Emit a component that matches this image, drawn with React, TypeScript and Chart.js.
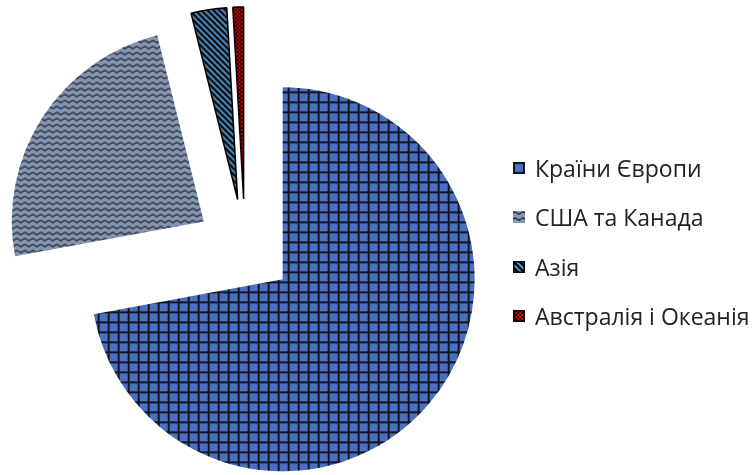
import React, { useEffect, useRef } from "react";
import { Chart, registerables, ArcElement } from "chart.js";

Chart.register(...registerables);

const categories: string[] = ["Країни Європи", "США та Канада", "Азія", "Австралія і Океанія"];
const values: number[] = [72.1, 24.0, 3.0, 0.9];
const explode: number[] = [49, 49, 49, 49];
const borderWidths: number[] = [0, 0, 1.5, 1.5];

// Explode slices by a true pixel distance (Chart.js scales `offset` and grows the radius).
const proto: any = ArcElement.prototype as any;
if (!proto.__explodedPatched) {
  const origDraw = proto.draw;
  proto.draw = function (ctx: CanvasRenderingContext2D) {
    const idx = this.$context && typeof this.$context.dataIndex === "number" ? this.$context.dataIndex : 0;
    const off = explode[idx] ?? 0;
    const half = (this.startAngle + this.endAngle) / 2;
    ctx.save();
    ctx.translate(Math.cos(half) * off, Math.sin(half) * off);
    origDraw.call(this, ctx);
    ctx.restore();
  };
  proto.__explodedPatched = true;
}

function makePattern(idx: number): CanvasPattern | string {
  const c = document.createElement("canvas");
  const g = c.getContext("2d");
  if (!g) return "#4472C4";
  if (idx === 0) {
    c.width = 10; c.height = 10;
    g.fillStyle = "#4A6EC0"; g.fillRect(0, 0, 10, 10);
    g.fillStyle = "#121621";
    g.fillRect(0, 0, 10, 2); g.fillRect(0, 0, 2, 10);
  } else if (idx === 1) {
    c.width = 8; c.height = 6;
    g.fillStyle = "#8596B2"; g.fillRect(0, 0, 8, 6);
    g.strokeStyle = "#1e222c"; g.lineWidth = 1.3;
    g.beginPath();
    g.moveTo(0, 2); g.lineTo(2, 1); g.lineTo(4, 2); g.lineTo(6, 3.2); g.lineTo(8, 2);
    g.stroke();
  } else if (idx === 2) {
    c.width = 6; c.height = 6;
    g.fillStyle = "#5B9BD5"; g.fillRect(0, 0, 6, 6);
    g.strokeStyle = "#050505"; g.lineWidth = 2.3;
    g.beginPath();
    for (const k of [-6, 0, 6]) { g.moveTo(k - 1, -1); g.lineTo(k + 7, 7); }
    g.stroke();
  } else {
    c.width = 4; c.height = 4;
    g.fillStyle = "#000000"; g.fillRect(0, 0, 4, 4);
    g.fillStyle = "#E00000";
    g.fillRect(0, 0, 2, 2); g.fillRect(2, 2, 2, 2);
  }
  const p = g.createPattern(c, "repeat");
  return p || "#4472C4";
}

const SW = 12;

function Swatch({ idx }: { idx: number }) {
  const ref = useRef<HTMLCanvasElement | null>(null);
  useEffect(() => {
    const cv = ref.current;
    if (!cv) return;
    const g = cv.getContext("2d");
    if (!g) return;
    g.clearRect(0, 0, SW, SW);
    g.fillStyle = makePattern(idx) as any;
    g.fillRect(0, 0, SW, SW);
    if (idx >= 2) {
      g.strokeStyle = "#000";
      g.lineWidth = 1.5;
      g.strokeRect(0.75, 0.75, SW - 1.5, SW - 1.5);
    }
  }, [idx]);
  return <canvas ref={ref} width={SW} height={SW} style={{ display: "block", width: SW, height: SW }} />;
}

export default function App() {
  const canvasRef = useRef<HTMLCanvasElement | null>(null);

  useEffect(() => {
    const cv = canvasRef.current;
    if (!cv) return;
    const chart = new Chart(cv, {
      type: "pie",
      data: {
        labels: categories,
        datasets: [
          {
            data: values,
            backgroundColor: categories.map((_, i) => makePattern(i)) as any,
            borderColor: "#000000",
            borderWidth: borderWidths,
            offset: 0,
            hoverOffset: 0,
            clip: false as any,
          } as any,
        ],
      },
      options: {
        responsive: false,
        animation: false,
        radius: 192,
        layout: { padding: { left: 0, right: 264, top: 21, bottom: 0 } },
        plugins: {
          legend: { display: false },
          tooltip: { enabled: false },
        },
      } as any,
    });
    return () => chart.destroy();
  }, []);

  const legendTops = [168, 217, 267, 316];

  return (
    <div style={{ position: "absolute", left: 0, top: 0, width: 754, height: 475, background: "#fff", overflow: "hidden" }}>
      <canvas ref={canvasRef} width={754} height={475} style={{ position: "absolute", left: 0, top: 0, width: 754, height: 475 }} />
      {categories.map((name, i) => (
        <div
          key={name}
          style={{
            position: "absolute",
            left: 513,
            top: legendTops[i] - 16,
            height: 32,
            display: "flex",
            alignItems: "center",
            whiteSpace: "nowrap",
            fontFamily: "'Open Sans', 'Noto Sans', sans-serif",
            fontSize: 23,
            color: "#222",
          }}
        >
          <Swatch idx={i} />
          <span style={{ marginLeft: 10 }}>{name}</span>
        </div>
      ))}
    </div>
  );
}
